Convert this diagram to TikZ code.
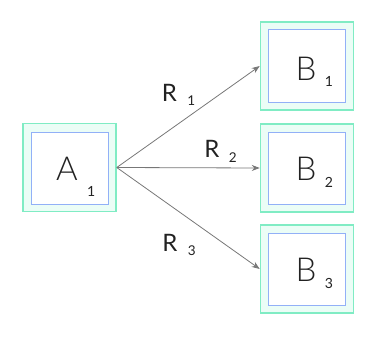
\documentclass[tikz,border=0pt]{standalone}
\usepackage{fontspec}
\setmainfont{Lato Light}
\newfontfamily\latoreg{Lato}
\usetikzlibrary{arrows.meta,calc}
\definecolor{outerline}{HTML}{80ECC4}
\definecolor{outerfill}{HTML}{EBFDF6}
\definecolor{innerline}{HTML}{92B0F7}
\definecolor{edgecol}{HTML}{777777}
\definecolor{txtcol}{HTML}{222222}
\begin{document}
\begin{tikzpicture}[x=1pt,y=-1pt,
  outerbox/.style={draw=outerline,fill=outerfill,line width=1.5pt,minimum width=93pt,minimum height=88pt,inner sep=0pt},
  innerbox/.style={draw=innerline,fill=white,line width=1pt,minimum width=77pt,minimum height=72pt,inner sep=0pt},
  bigtxt/.style={inner sep=0pt,text=txtcol,font=\fontsize{33}{33}\selectfont},
  subtxt/.style={inner sep=0pt,anchor=base west,text=txtcol,font=\latoreg\fontsize{14}{14}\selectfont},
  reltxt/.style={inner sep=0pt,text=txtcol,font=\latoreg\fontsize{24}{24}\selectfont},
  relsub/.style={inner sep=0pt,anchor=base west,text=txtcol,font=\latoreg\fontsize{13.5}{13.5}\selectfont},
  conn/.style={draw=edgecol,line width=0.8pt,-{Stealth[length=8pt,width=6pt]}}]
\useasboundingbox (0,0) rectangle (380,337);
% boxes
\node[outerbox] (a1) at (69.5,167.5) {};
\node[innerbox] (a1in) at (69.5,168) {};
\node[outerbox] (b1) at (307,66) {};
\node[innerbox] (b1in) at (307,66) {};
\node[outerbox] (b2) at (307,168) {};
\node[innerbox] (b2in) at (307,168) {};
\node[outerbox] (b3) at (307,269) {};
\node[innerbox] (b3in) at (307,269) {};
% box texts
\node[bigtxt] (a1t) at (67,169) {A};
\node[subtxt] (a1s) at ($(a1t.base east)+(9,16)$) {1};
\node[bigtxt] (b1t) at (306,68.5) {B};
\node[subtxt] (b1s) at ($(b1t.base east)+(8,6)$) {1};
\node[bigtxt] (b2t) at (306,169) {B};
\node[subtxt] (b2s) at ($(b2t.base east)+(8,7)$) {2};
\node[bigtxt] (b3t) at (306,270) {B};
\node[subtxt] (b3s) at ($(b3t.base east)+(8,7)$) {3};
% connectors
\draw[conn] (a1.east) -- (b1.west);
\draw[conn] (a1.east) -- (b2.west);
\draw[conn] (a1.east) -- (b3.west);
% relation labels
\node[reltxt] (r1t) at (169.5,93) {R};
\node[relsub] (r1s) at ($(r1t.base east)+(10,4)$) {1};
\node[reltxt] (r2t) at (212,149) {R};
\node[relsub] (r2s) at ($(r2t.base east)+(9,5)$) {2};
\node[reltxt] (r3t) at (170,242.5) {R};
\node[relsub] (r3s) at ($(r3t.base east)+(10,4)$) {3};
\end{tikzpicture}
\end{document}
